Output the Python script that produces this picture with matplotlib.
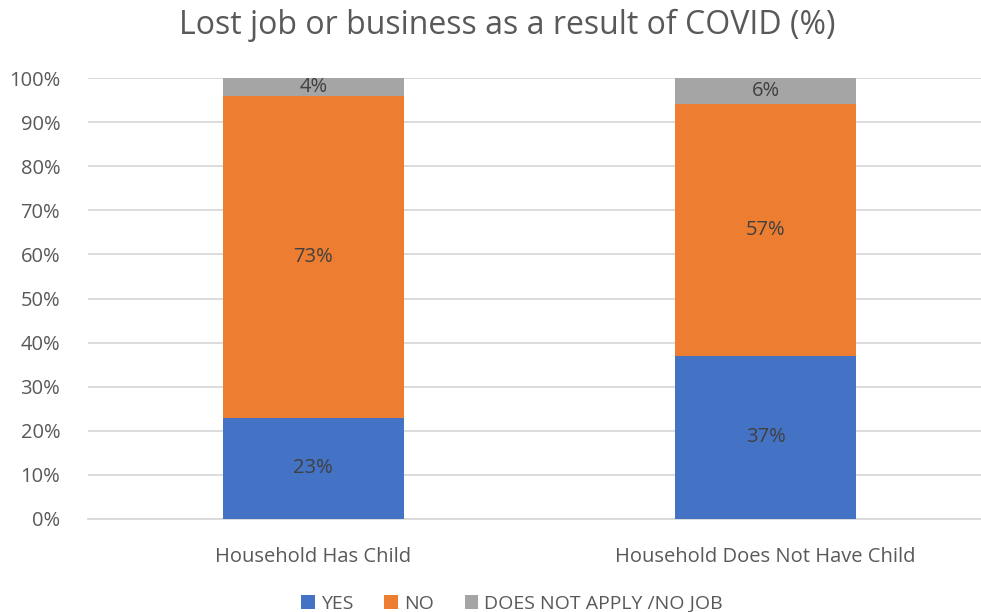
import numpy as np
import matplotlib.pyplot as plt

# Lost job or business, split by whether household has a child
categories = ['Household Has Child', 'Household Does Not Have Child']
yes_pct = [23, 37]
no_pct = [73, 57]
na_pct = [4, 6]
series_names = ['YES', 'NO', 'DOES NOT APPLY /NO JOB']
colors = ['#4472C4', '#ED7D31', '#A5A5A5']

plt.rcParams['font.family'] = ['Open Sans', 'DejaVu Sans']
text_color = '#595959'

fig = plt.figure(figsize=(9.81, 6.12), dpi=100)
ax = fig.add_axes([88 / 981, 1 - 519 / 612, 1 - 88 / 981, (519 - 78) / 612])

x = np.arange(len(categories))
width = 0.4
bottom = np.zeros(len(categories))
for vals, name, c in zip([yes_pct, no_pct, na_pct], series_names, colors):
    vals = np.array(vals, dtype=float)
    ax.bar(x, vals, width, bottom=bottom, color=c, label=name, zorder=3)
    for xi, b, v in zip(x, bottom, vals):
        ax.text(xi, b + v / 2, f'{v:.0f}%', ha='center', va='center',
                fontsize=14.5, color='#404040', zorder=4)
    bottom += vals

ax.set_ylim(0, 100)
ax.set_xlim(-0.498, 1.476)
ax.set_yticks(np.arange(0, 101, 10))
ax.set_yticklabels([f'{t}%' for t in range(0, 101, 10)])
ax.set_xticks(x)
ax.set_xticklabels(categories)
ax.yaxis.grid(True, color='#D9D9D9', linewidth=1.3, zorder=0)
for s in ['top', 'right', 'left']:
    ax.spines[s].set_visible(False)
ax.spines['bottom'].set_color('#D9D9D9')
ax.spines['bottom'].set_linewidth(1.3)
ax.tick_params(axis='both', length=0, labelsize=14.5, colors=text_color)
ax.tick_params(axis='y', pad=20)
ax.tick_params(axis='x', pad=20)

fig.suptitle('Lost job or business as a result of COVID (%)', x=0.517, y=0.985,
             fontsize=23, color=text_color)
fig.legend(loc='lower center', ncol=3, frameon=False, fontsize=14,
           bbox_to_anchor=(0.522, -0.03), handlelength=0.7, handleheight=0.7,
           handletextpad=0.3, columnspacing=1.6, labelcolor=text_color)

fig.savefig('out.png', dpi=100)
